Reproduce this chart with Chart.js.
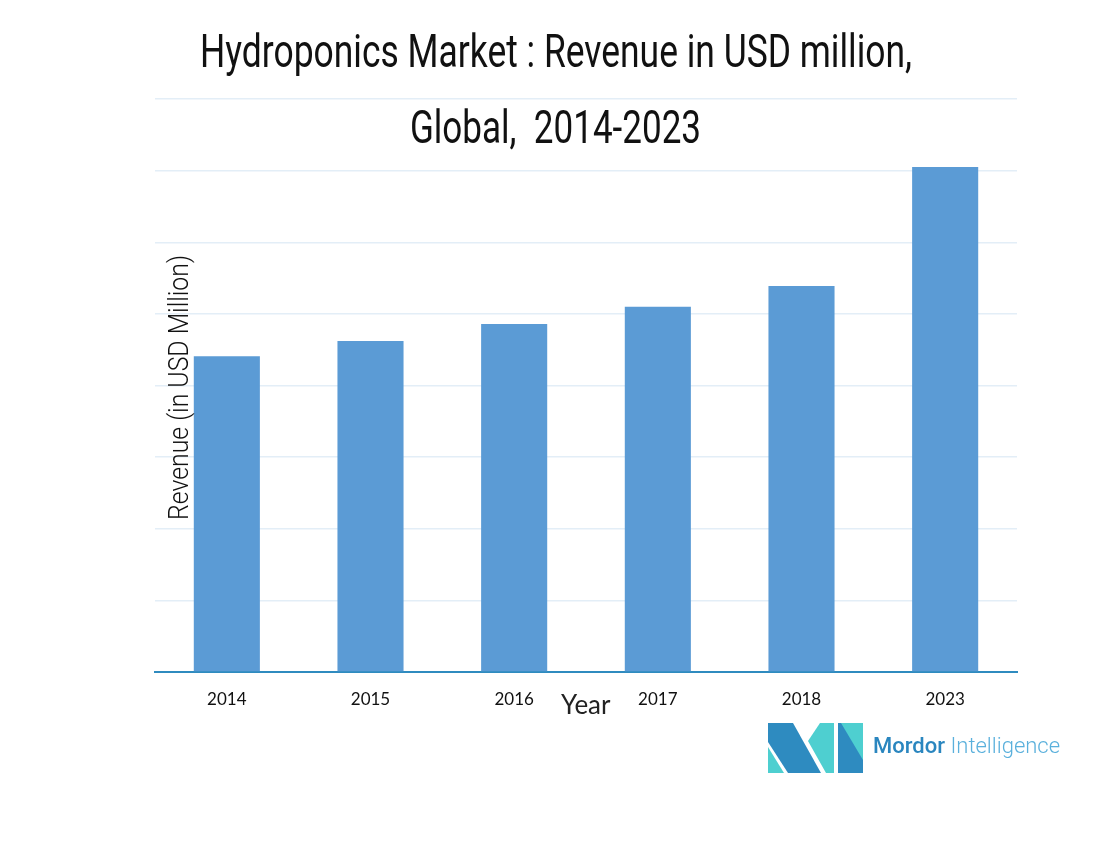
<!DOCTYPE html>
<html>
<head>
<meta charset="utf-8">
<script src="https://cdn.jsdelivr.net/npm/chart.js@4.4.1/dist/chart.umd.min.js"></script>
<style>
  html, body { margin:0; padding:0; background:#fff; }
  #wrap { position:relative; width:1110px; height:842px; overflow:hidden; }
  canvas { position:absolute; left:0; top:0; }
  .fit { position:absolute; white-space:nowrap; transform-origin:0 0; color:#111; }
  #t1 { font-family: Roboto, sans-serif; font-size:46px; left:200px; top:24px; }
  #t2 { font-family: Roboto, sans-serif; font-size:46px; left:410px; top:100px; }
  #ylab { font-family: Roboto, sans-serif; font-weight:300; font-size:28px; color:#111; }
  #xlab { position:absolute; font-family: Lato, sans-serif; font-size:26px; color:#222; left:561px; top:688px; }
  #logo { position:absolute; left:768px; top:723px; }
  #brand { position:absolute; left:873px; top:733px; font-family: Roboto, sans-serif; font-size:22px; white-space:nowrap; }
  #brand b { color:#2a86bf; font-weight:500; }
  #brand span { color:#5ab0dc; font-weight:300; }
</style>
</head>
<body>
<div id="wrap">
  <canvas id="c" width="1110" height="842"></canvas>
  <div id="t1" class="fit" data-w="712">Hydroponics Market : Revenue in USD million,</div>
  <div id="t2" class="fit" data-w="291">Global,&nbsp; 2014-2023</div>
  <div id="ylab" class="fit">Revenue (in USD Million)</div>
  <div id="xlab">Year</div>
  <svg id="logo" width="95" height="51" viewBox="0 0 95 51">
    <polygon points="0,0 25,0 53,50 20,50 0,19" fill="#2e8bc0"/>
    <polygon points="0,24 0,50 16,50" fill="#4ecfd0"/>
    <polygon points="40,18 52,0 66,0 66,50 58,50" fill="#4ecfd0"/>
    <polygon points="70,0 95,0 95,50 70,50" fill="#2e8bc0"/>
    <polygon points="73,0 95,0 95,37" fill="#4ecfd0"/>
  </svg>
  <div id="brand"><b>Mordor</b> <span>Intelligence</span></div>
</div>
<script>
const categories = ["2014", "2015", "2016", "2017", "2018", "2023"];
const revenue = [4.41, 4.62, 4.86, 5.10, 5.39, 7.05];
const yMax = 8;

document.querySelectorAll('#t1, #t2').forEach(el => {
  const w = el.getBoundingClientRect().width;
  el.style.transform = 'scaleX(' + (parseFloat(el.dataset.w) / w) + ')';
});
(function(){
  const el = document.getElementById('ylab');
  const w = el.getBoundingClientRect().width;
  const s = 265 / w;
  el.style.left = '162px';
  el.style.top = '520px';
  el.style.transform = 'rotate(-90deg) scaleX(' + s + ')';
})();

new Chart(document.getElementById('c'), {
  type: 'bar',
  data: {
    labels: categories,
    datasets: [{
      data: revenue,
      backgroundColor: '#5b9bd5',
      barPercentage: 0.46,
      categoryPercentage: 1.0
    }]
  },
  options: {
    responsive: false,
    animation: false,
    layout: { padding: { left: 155, right: 93, top: 99, bottom: 0 } },
    plugins: { legend: { display: false }, title: { display: false }, tooltip: { enabled: false } },
    scales: {
      x: {
        grid: { display: false, drawTicks: false },
        border: { display: true, color: '#2f8bbf', width: 2 },
        ticks: { color: '#111', font: { family: 'Lato, sans-serif', size: 17 }, padding: 17 },
        afterFit: s => { s.height = 842 - 672; }
      },
      y: {
        min: 0, max: yMax,
        ticks: { display: false, stepSize: 1 },
        grid: { color: '#e3eef7', lineWidth: 1.5, drawTicks: false },
        border: { display: false },
        afterFit: s => { s.width = 0; }
      }
    }
  }
});
</script>
</body>
</html>
